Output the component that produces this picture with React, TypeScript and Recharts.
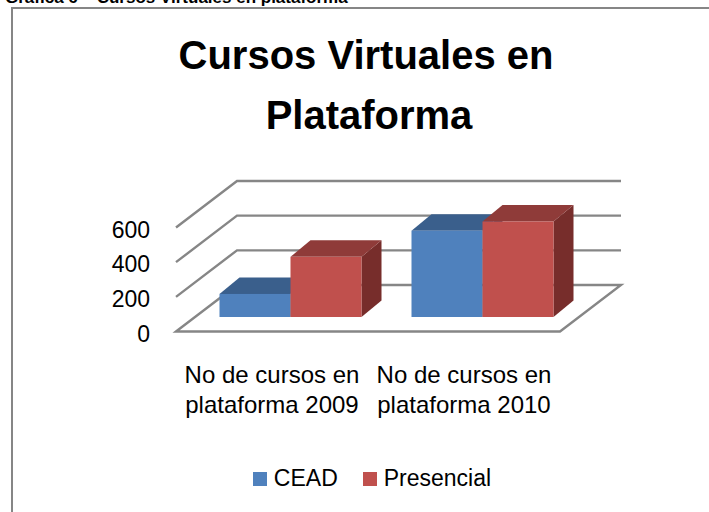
import { BarChart, Bar, XAxis, YAxis, CartesianGrid, Legend } from "recharts";

const categories = ["No de cursos en plataforma 2009", "No de cursos en plataforma 2010"];
const ceadValues = [133, 498];
const presencialValues = [347, 551];
const yTicks = [0, 200, 400, 600];
const seriesNames = ["CEAD", "Presencial"];

const data = categories.map((name, i) => ({
  name,
  cead: ceadValues[i],
  presencial: presencialValues[i],
}));

const W = 709;
const H = 512;
// front plane of the floor (where the value scale lives)
const PLOT_LEFT = 176;
const PLOT_RIGHT = 560;
const PLOT_TOP = 227.5;
const PLOT_BOTTOM = 331.5;
// offsets of the oblique projection
const WALL_DX = 61;
const WALL_DY = -46.5;
const BAR_DX = 18.5;
const BAR_DY = -14.5;
const DEPTH_DX = 20;
const DEPTH_DY = -16.5;

const GRID = "#868686";
const FONT = "'Liberation Sans', Arial, sans-serif";

const faces = {
  cead: { front: "#4F81BD", top: "#3A5F8C", side: "#2F4E75" },
  presencial: { front: "#C0504D", top: "#8F3B39", side: "#772D2B" },
};

type Face = { front: string; top: string; side: string };

function Box3D(props: any, c: Face) {
  const { x, y, width, height } = props;
  const h = Math.max(height || 0, 0);
  const x0 = x + BAR_DX;
  const y0 = y + BAR_DY;
  const x1 = x0 + width;
  const top = `${x0},${y0} ${x1},${y0} ${x1 + DEPTH_DX},${y0 + DEPTH_DY} ${x0 + DEPTH_DX},${y0 + DEPTH_DY}`;
  const side = `${x1},${y0} ${x1 + DEPTH_DX},${y0 + DEPTH_DY} ${x1 + DEPTH_DX},${y0 + h + DEPTH_DY} ${x1},${y0 + h}`;
  return (
    <g>
      <polygon points={side} fill={c.side} />
      <polygon points={top} fill={c.top} />
      <rect x={x0} y={y0} width={width} height={h} fill={c.front} />
    </g>
  );
}

function wallLine(props: any) {
  const { x1, x2, y1 } = props;
  const by = y1 + WALL_DY;
  const isFloor = Math.abs(y1 - PLOT_BOTTOM) < 1;
  const d = isFloor
    ? `M${x1},${y1} L${x1 + WALL_DX},${by} L${x2 + WALL_DX},${by} L${x2},${y1} Z`
    : `M${x1},${y1} L${x1 + WALL_DX},${by} L${x2 + WALL_DX},${by}`;
  return <path key={`grid-${y1}`} d={d} fill="none" stroke={GRID} strokeWidth={2.4} />;
}

function YTick({ y, payload }: any) {
  return (
    <text x={PLOT_LEFT - 26} y={y + 10} textAnchor="end" fontFamily={FONT} fontSize={23} fill="#000">
      {payload.value}
    </text>
  );
}

function XTick({ x, payload }: any) {
  const [a, b] = String(payload.value).replace(" plataforma", "\nplataforma").split("\n");
  return (
    <g fontFamily={FONT} fontSize={24} fill="#000" textAnchor="middle">
      <text x={x} y={383}>{a}</text>
      <text x={x} y={413}>{b}</text>
    </g>
  );
}

function LegendContent({ payload }: any) {
  return (
    <div
      style={{
        display: "flex",
        justifyContent: "center",
        paddingLeft: 35,
        fontFamily: FONT,
        fontSize: 23,
        color: "#000",
      }}
    >
      {(payload || []).map((p: any, i: number) => (
        <div key={i} style={{ display: "flex", alignItems: "center", marginLeft: i ? 25 : 0 }}>
          <span style={{ width: 14, height: 14, background: p.color, marginRight: 7, display: "inline-block" }} />
          <span>{p.value}</span>
        </div>
      ))}
    </div>
  );
}

export default function App() {
  return (
    <div
      style={{
        position: "absolute",
        left: 0,
        top: 0,
        width: W,
        height: H,
        overflow: "hidden",
        background: "#fff",
      }}
    >
      <BarChart
        width={W}
        height={H}
        data={data}
        margin={{ top: PLOT_TOP, right: W - PLOT_RIGHT, bottom: H - PLOT_BOTTOM - 60, left: 0 }}
        barCategoryGap={25}
        barGap={0}
      >
        <CartesianGrid vertical={false} horizontal={wallLine} />
        <XAxis dataKey="name" height={60} axisLine={false} tickLine={false} interval={0} tick={<XTick />} />
        <YAxis
          width={PLOT_LEFT}
          domain={[0, 600]}
          ticks={yTicks}
          interval={0}
          axisLine={false}
          tickLine={false}
          tick={<YTick />}
        />
        <Legend
          verticalAlign="middle"
          layout="horizontal"
          content={<LegendContent />}
          wrapperStyle={{ top: 465, left: 0, width: W, lineHeight: "normal" }}
        />
        <Bar
          dataKey="cead"
          name={seriesNames[0]}
          fill={faces.cead.front}
          isAnimationActive={false}
          shape={(p: any) => Box3D(p, faces.cead)}
        />
        <Bar
          dataKey="presencial"
          name={seriesNames[1]}
          fill={faces.presencial.front}
          isAnimationActive={false}
          shape={(p: any) => Box3D(p, faces.presencial)}
        />
      </BarChart>
      <svg
        width={W}
        height={H}
        style={{ position: "absolute", left: 0, top: 0, pointerEvents: "none" }}
      >
        <path d={`M12,${H} L12,8 L${W},8`} fill="none" stroke="#868686" strokeWidth={2} />
        <text x={5} y={3} fontFamily={FONT} fontWeight="bold" fontSize={17} fill="#000">
          Gráfica 6 – Cursos Virtuales en plataforma
        </text>
        <g fontFamily={FONT} fontWeight="bold" fontSize={40} fill="#000" textAnchor="middle">
          <text x={366} y={69}>Cursos Virtuales en</text>
          <text x={369} y={129}>Plataforma</text>
        </g>
      </svg>
    </div>
  );
}
